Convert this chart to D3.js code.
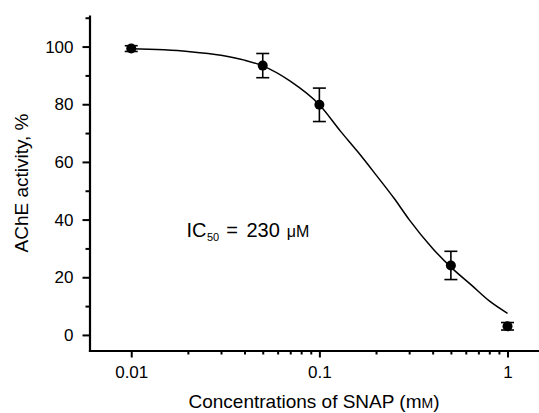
<!DOCTYPE html>
<html>
<head>
<meta charset="utf-8">
<script src="https://cdn.jsdelivr.net/npm/d3@7"></script>
<style>
  body { margin: 0; background: #fff; }
  svg { display: block; font-family: Arial, "Liberation Sans", sans-serif; }
  .axis path, .axis line { stroke: #000; }
  .axis text { font-size: 17px; fill: #000; }
</style>
</head>
<body>
<svg id="chart" width="539" height="413"></svg>
<script>
// measured points (mean ± SD)
const concentrations = [0.01, 0.05, 0.1, 0.5, 1];
const activity = [99.3, 93.4, 79.8, 24.1, 3.0];
const errors = [1.0, 4.2, 5.8, 4.9, 1.3];

// fitted curve
const fitConc = [0.01, 0.02, 0.03, 0.04, 0.05, 0.07, 0.1, 0.13, 0.16, 0.2, 0.25, 0.3, 0.4, 0.5, 0.65, 0.8, 1.0];
const fitActivity = [99.2, 98.3, 97.0, 95.3, 93.3, 88.0, 79.8, 70.5, 63.5, 55.5, 47.3, 40.0, 30.0, 23.5, 17.0, 11.8, 7.5];

const xMajor = [0.01, 0.1, 1];
const xMinor = [0.02, 0.03, 0.04, 0.05, 0.06, 0.07, 0.08, 0.09, 0.2, 0.3, 0.4, 0.5, 0.6, 0.7, 0.8, 0.9];
const yMajor = [0, 20, 40, 60, 80, 100];
const yMinor = [10, 30, 50, 70, 90, 110];

const svg = d3.select('#chart');
const plotLeft = 89.5, plotRight = 539, plotTop = 16, plotBottom = 350.5;

const x = d3.scaleLog().domain([0.006, 1.47]).range([plotLeft, plotRight]);
const y = d3.scaleLinear().domain([-5.4, 110.6]).range([plotBottom, plotTop]);

// x axis
const gx = svg.append('g').attr('class', 'axis').attr('transform', `translate(0,${plotBottom})`);
gx.call(d3.axisBottom(x).tickValues(xMajor).tickSize(7).tickSizeOuter(0)
  .tickFormat(d => String(d)).tickPadding(8));
gx.append('g').call(d3.axisBottom(x).tickValues(xMinor).tickSize(4).tickFormat(''))
  .select('.domain').remove();
gx.selectAll('line').attr('stroke-width', 2);
gx.select('.domain').attr('stroke-width', 2.2);

// y axis
const gy = svg.append('g').attr('class', 'axis').attr('transform', `translate(${plotLeft},0)`);
gy.call(d3.axisLeft(y).tickValues(yMajor).tickSize(7).tickSizeOuter(0).tickPadding(9));
gy.append('g').call(d3.axisLeft(y).tickValues(yMinor).tickSize(4).tickFormat(''))
  .select('.domain').remove();
gy.selectAll('line').attr('stroke-width', 2);
gy.select('.domain').attr('stroke-width', 2.2);
svg.selectAll('.axis .domain').attr('stroke-linecap', 'square');

// fitted curve
const line = d3.line()
  .x((d, i) => x(fitConc[i]))
  .y(d => y(d))
  .curve(d3.curveMonotoneX);
svg.append('path')
  .datum(fitActivity)
  .attr('d', line)
  .attr('fill', 'none')
  .attr('stroke', '#000')
  .attr('stroke-width', 1.5);

// error bars
const pts = concentrations.map((c, i) => ({ c, v: activity[i], e: errors[i] }));
const eb = svg.append('g').attr('stroke', '#000').attr('stroke-width', 1.6);
pts.forEach(p => {
  const cx = x(p.c);
  eb.append('line').attr('x1', cx).attr('x2', cx).attr('y1', y(p.v + p.e)).attr('y2', y(p.v - p.e));
  [p.v + p.e, p.v - p.e].forEach(v => {
    eb.append('line').attr('x1', cx - 6.5).attr('x2', cx + 6.5).attr('y1', y(v)).attr('y2', y(v));
  });
});

svg.append('g').selectAll('circle')
  .data(pts)
  .join('circle')
  .attr('cx', d => x(d.c))
  .attr('cy', d => y(d.v))
  .attr('r', 5)
  .attr('fill', '#000');

// axis titles
svg.append('text')
  .attr('transform', 'translate(28,183) rotate(-90)')
  .attr('text-anchor', 'middle')
  .style('font-size', '19px')
  .text('AChE activity, %');

const xt = svg.append('text')
  .attr('x', 314)
  .attr('y', 407.5)
  .attr('text-anchor', 'middle')
  .style('font-size', '19px')
  .text('Concentrations of SNAP (m');
xt.append('tspan').style('font-size', '14px').text('M');
xt.append('tspan').text(')');

// IC50 annotation
const ic = svg.append('text')
  .attr('x', 186.5)
  .attr('y', 236.7)
  .style('font-size', '20px')
  .text('IC');
ic.append('tspan').attr('dx', 0.5).attr('dy', 4).style('font-size', '11px').text('50');
ic.append('tspan').attr('dx', 7).attr('dy', -4).text('=');
ic.append('tspan').attr('dx', 8.5).text('230');
ic.append('tspan').attr('dx', 7).style('font-size', '16px').text('μM');
</script>
</body>
</html>
